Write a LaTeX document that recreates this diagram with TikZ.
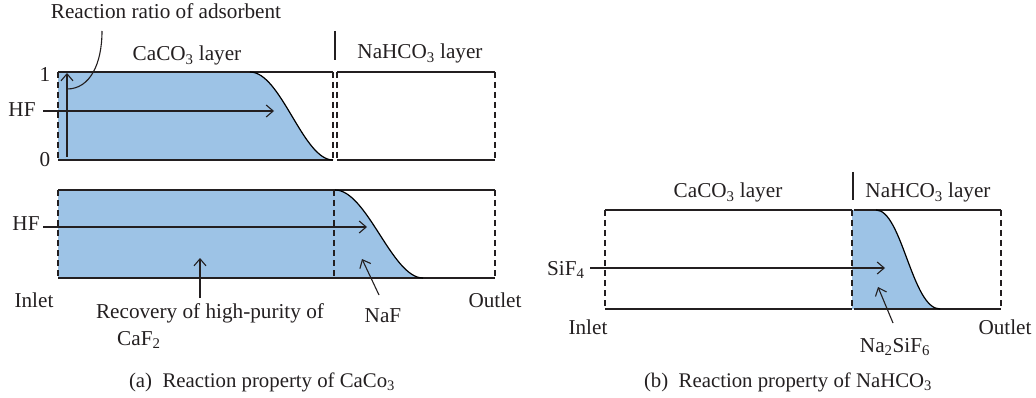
\documentclass[tikz,border=0pt]{standalone}
\usepackage{fontspec}
\setmainfont{Liberation Serif}
\usetikzlibrary{arrows.meta}
\definecolor{fillblue}{RGB}{157,195,230}
\definecolor{inkc}{RGB}{35,31,32}
\begin{document}
\begin{tikzpicture}[x=1pt,y=-1pt,
  solidedge/.style={line width=1.3pt, draw=inkc},
  dashedge/.style={line width=1.3pt, draw=inkc, dash pattern=on 6pt off 4pt},
  flow/.style={line width=1.1pt, draw=inkc, -{Straight Barb[length=7pt,width=12pt]}},
  thinline/.style={line width=1.1pt, draw=inkc},
  frontcurve/.style={line width=1.2pt, draw=black},
  lbl/.style={inner sep=0pt, anchor=base, text=inkc, font=\fontsize{21.2}{25}\selectfont},
  caplbl/.style={inner sep=0pt, anchor=base, text=inkc, font=\fontsize{20.8}{25}\selectfont},
  region/.style={fill=fillblue, draw=none}
]
\useasboundingbox (0,0) rectangle (1036,398);

% ================= panel (a), top =================
\fill[region] (58,72) -- (250,72) .. controls (281,72) and (303,160) .. (333,160) -- (58,160) -- cycle;
\draw[solidedge] (58,72) -- (333,72);
\draw[solidedge] (58,160) -- (333,160);
\draw[dashedge] (58,72) -- (58,160);
\draw[dashedge] (333,72) -- (333,160);
\draw[solidedge] (337,72) -- (495,72);
\draw[solidedge] (337,160) -- (495,160);
\draw[dashedge] (337,72) -- (337,160);
\draw[dashedge] (495,72) -- (495,160);
\draw[frontcurve] (250,72) .. controls (281,72) and (303,160) .. (333,160);
\draw[solidedge] (335,31) -- (335,60);

\node[lbl] (rr) at (166,19) {Reaction ratio of adsorbent};
\node[lbl] (ca1) at (187,61) {CaCO\textsubscript{3} layer};
\node[lbl] (na1) at (420,59) {NaHCO\textsubscript{3} layer};
\node[lbl] (one) at (45,82) {1};
\node[lbl] (zero) at (45,167) {0};
\node[lbl] (hf1) at (22,117) {HF};

\coordinate (ya) at (67,157);
\coordinate (yb) at (67,73);
\draw[flow] (ya) -- (yb);
\coordinate (rrs) at (102,31);
\coordinate (rre) at (67,89);
\draw[thinline] (rrs) .. controls (102,64) and (90,89) .. (rre);
\coordinate (h1s) at (43,111);
\coordinate (h1e) at (274,111);
\draw[flow] (h1s) -- (h1e);

% ================= panel (a), bottom =================
\fill[region] (58,190) -- (335,190) .. controls (367,190) and (392,278) .. (423,278) -- (58,278) -- cycle;
\draw[solidedge] (58,190) -- (495,190);
\draw[solidedge] (58,278) -- (495,278);
\draw[dashedge] (58,190) -- (58,278);
\draw[dashedge] (334,190) -- (334,278);
\draw[dashedge] (495,190) -- (495,278);
\draw[frontcurve] (335,190) .. controls (367,190) and (392,278) .. (423,278);

\node[lbl] (hf2) at (26,231) {HF};
\node[lbl] (in1) at (34,307) {Inlet};
\node[lbl] (out1) at (495,307) {Outlet};
\node[lbl] (rec) at (210,318) {Recovery of high-purity of};
\node[lbl, anchor=base west] (caf) at (117,345) {CaF\textsubscript{2}};
\node[lbl] (naf) at (383,322) {NaF};

\coordinate (h2s) at (43,227);
\coordinate (h2e) at (367,227);
\draw[flow] (h2s) -- (h2e);
\coordinate (rcs) at (200,298);
\coordinate (rce) at (200,258);
\draw[flow] (rcs) -- (rce);
\coordinate (nfs) at (379,295);
\coordinate (nfe) at (362,259);
\draw[flow] (nfs) -- (nfe);

\node[caplbl] (capa) at (262,387) {(a)\enspace Reaction property of CaCo\textsubscript{3}};

% ================= panel (b) =================
\fill[region] (852,210) -- (876,210) .. controls (902,210) and (912,309) .. (940,309) -- (852,309) -- cycle;
\draw[solidedge] (605,210) -- (852,210);
\draw[solidedge] (605,309) -- (852,309);
\draw[solidedge] (854,210) -- (1001,210);
\draw[solidedge] (854,309) -- (1001,309);
\draw[dashedge] (605,210) -- (605,309);
\draw[dashedge] (852,210) -- (852,309);
\draw[dashedge] (1001,210) -- (1001,309);
\draw[frontcurve] (876,210) .. controls (902,210) and (912,309) .. (940,309);
\draw[solidedge] (853,172) -- (853,200);

\node[lbl] (ca2) at (728,198) {CaCO\textsubscript{3} layer};
\node[lbl] (na2) at (928,198) {NaHCO\textsubscript{3} layer};
\node[lbl, anchor=base west] (sif) at (547,275) {SiF\textsubscript{4}};
\node[lbl] (in2) at (588,334) {Inlet};
\node[lbl] (out2) at (1005,334) {Outlet};
\node[lbl] (nas) at (895,352) {Na\textsubscript{2}SiF\textsubscript{6}};

\coordinate (sfs) at (590,268);
\coordinate (sfe) at (885,268);
\draw[flow] (sfs) -- (sfe);
\coordinate (nss) at (893,323);
\coordinate (nse) at (878,287);
\draw[flow] (nss) -- (nse);

\node[caplbl] (capb) at (788,387) {(b)\enspace Reaction property of NaHCO\textsubscript{3}};
\end{tikzpicture}
\end{document}
